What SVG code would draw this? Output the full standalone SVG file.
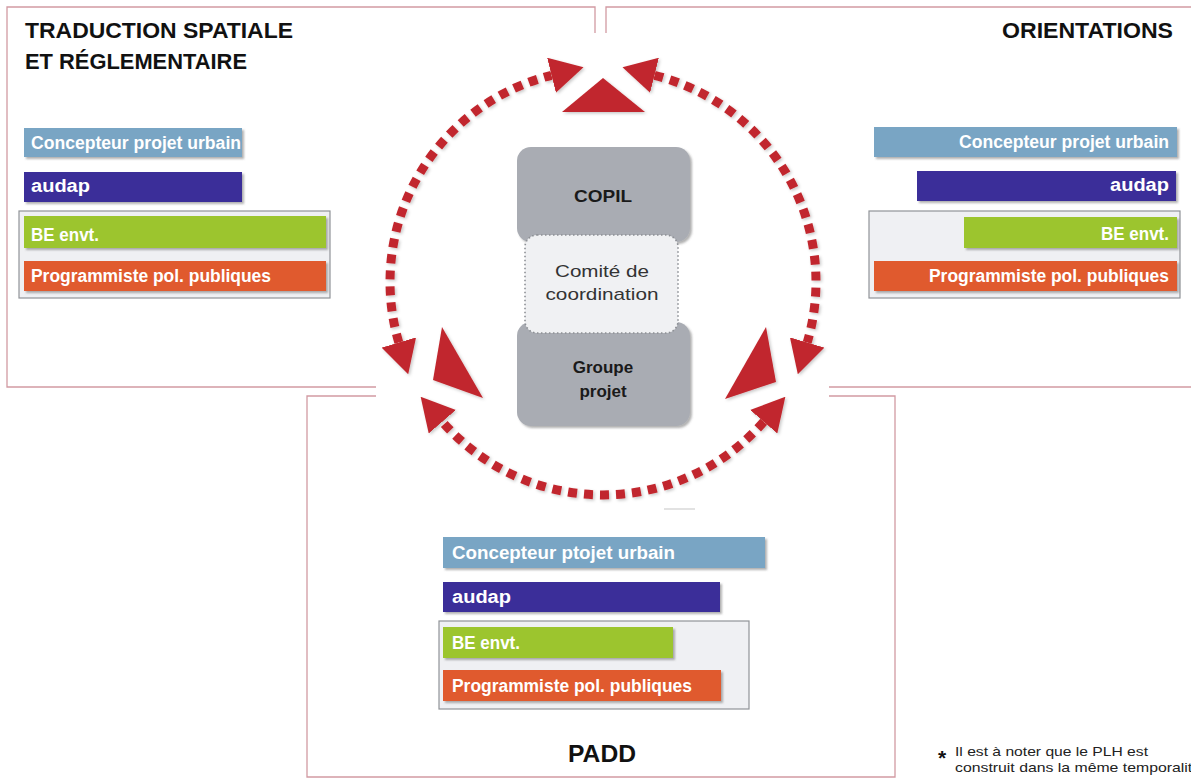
<svg xmlns="http://www.w3.org/2000/svg" width="1191" height="779" viewBox="0 0 1191 779">
  <defs>
    <style>
      .frame { fill: none; stroke: #d29aa2; stroke-width: 1.3; }
      .title { font-family: "Liberation Sans", Arial, sans-serif; font-weight: bold; font-size: 22.5px; fill: #111; }
      .bartxt { font-family: "Liberation Sans", Arial, sans-serif; font-weight: bold; font-size: 18px; fill: #ffffff; }
      .blue { fill: #79a5c4; }
      .purple { fill: #3a2e99; }
      .green { fill: #9cc52f; }
      .orange { fill: #e05a2d; }
      .grp { fill: #eff0f3; stroke: #909398; stroke-width: 1.2; }
      .node { fill: #a9acb3; }
      .nodetxt { font-family: "Liberation Sans", Arial, sans-serif; font-weight: bold; font-size: 17px; fill: #1a1a1a; text-anchor: middle; }
      .comtxt { font-family: "Liberation Sans", Arial, sans-serif; font-size: 17px; fill: #333; text-anchor: middle; }
      .arc { fill: none; stroke: #c1272d; stroke-width: 9; stroke-dasharray: 9 7; }
      .tri { fill: #c1272d; }
      .note { font-family: "Liberation Sans", Arial, sans-serif; font-size: 13px; fill: #222; }
      .star { font-family: "Liberation Sans", Arial, sans-serif; font-size: 21px; font-weight: bold; fill: #111; }
    </style>
    <filter id="sh" x="-10%" y="-20%" width="130%" height="160%">
      <feDropShadow dx="2" dy="2" stdDeviation="1.3" flood-color="#555" flood-opacity="0.45"/>
    </filter>
    <filter id="shr" x="-20%" y="-20%" width="140%" height="140%">
      <feDropShadow dx="1.5" dy="1.5" stdDeviation="1.5" flood-color="#000" flood-opacity="0.22"/>
    </filter>
    <marker id="ah" viewBox="0 -18 33 36" markerWidth="33" markerHeight="36" refX="0" refY="0" markerUnits="userSpaceOnUse" orient="auto-start-reverse">
      <path d="M0,-18 L33,0 L0,18 Z" fill="#c1272d"/>
    </marker>
  </defs>

  <rect x="0" y="0" width="1191" height="779" fill="#ffffff"/>

  <!-- Panel: TRADUCTION SPATIALE ET REGLEMENTAIRE -->
  <g id="panel-traduction">
    <path class="frame" d="M595,33 V7 H7 V387 H376"/>
    <text class="title" x="25" y="38" textLength="268" lengthAdjust="spacingAndGlyphs">TRADUCTION SPATIALE</text>
    <text class="title" x="25" y="69" textLength="222" lengthAdjust="spacingAndGlyphs">ET RÉGLEMENTAIRE</text>
    <rect class="grp" x="19" y="211" width="311" height="87"/>
    <g filter="url(#sh)">
      <rect class="blue" x="24" y="128" width="218" height="29"/>
      <rect class="purple" x="24" y="172" width="218" height="30"/>
      <rect class="green" x="24" y="216" width="302" height="32"/>
      <rect class="orange" x="24" y="261" width="302" height="30"/>
    </g>
    <text class="bartxt" x="31" y="149" textLength="210" lengthAdjust="spacingAndGlyphs">Concepteur projet urbain</text>
    <text class="bartxt" x="31" y="192" textLength="59" lengthAdjust="spacingAndGlyphs">audap</text>
    <text class="bartxt" x="31" y="241" textLength="68" lengthAdjust="spacingAndGlyphs">BE envt.</text>
    <text class="bartxt" x="31" y="282" textLength="240" lengthAdjust="spacingAndGlyphs">Programmiste pol. publiques</text>
  </g>

  <!-- Panel: ORIENTATIONS -->
  <g id="panel-orientations">
    <path class="frame" d="M606,33 V7 H1191 M829,387 H1191"/>
    <text class="title" x="1173" y="38" text-anchor="end" textLength="171" lengthAdjust="spacingAndGlyphs">ORIENTATIONS</text>
    <rect class="grp" x="869" y="211" width="311" height="87"/>
    <g filter="url(#sh)">
      <rect class="blue" x="874" y="127" width="303" height="30"/>
      <rect class="purple" x="917" y="171" width="259" height="30"/>
      <rect class="green" x="964" y="217" width="213" height="31"/>
      <rect class="orange" x="874" y="261" width="303" height="30"/>
    </g>
    <text class="bartxt" x="1169" y="148" text-anchor="end" textLength="210" lengthAdjust="spacingAndGlyphs">Concepteur projet urbain</text>
    <text class="bartxt" x="1169" y="191" text-anchor="end" textLength="59" lengthAdjust="spacingAndGlyphs">audap</text>
    <text class="bartxt" x="1169" y="240" text-anchor="end" textLength="68" lengthAdjust="spacingAndGlyphs">BE envt.</text>
    <text class="bartxt" x="1169" y="282" text-anchor="end" textLength="240" lengthAdjust="spacingAndGlyphs">Programmiste pol. publiques</text>
  </g>

  <!-- Panel: PADD -->
  <g id="panel-padd">
    <path class="frame" d="M376,396 H307 V777 H895 V396 H829"/>
    <rect class="grp" x="439" y="621" width="310" height="88"/>
    <g filter="url(#sh)">
      <rect class="blue" x="443" y="537" width="322" height="31"/>
      <rect class="purple" x="443" y="582" width="277" height="30"/>
      <rect class="green" x="443" y="627" width="230" height="31"/>
      <rect class="orange" x="443" y="670" width="278" height="31"/>
    </g>
    <text class="bartxt" x="452" y="559" textLength="223" lengthAdjust="spacingAndGlyphs">Concepteur ptojet urbain</text>
    <text class="bartxt" x="452" y="603" textLength="59" lengthAdjust="spacingAndGlyphs">audap</text>
    <text class="bartxt" x="452" y="649" textLength="68" lengthAdjust="spacingAndGlyphs">BE envt.</text>
    <text class="bartxt" x="452" y="692" textLength="240" lengthAdjust="spacingAndGlyphs">Programmiste pol. publiques</text>
    <text class="title" x="602" y="762" text-anchor="middle" style="font-size:24px" textLength="68" lengthAdjust="spacingAndGlyphs">PADD</text>
  </g>

  <!-- Connectors: circular double-headed dashed arrows and direction triangles -->
  <g id="connectors" filter="url(#shr)">
    <path class="arc" d="M398.8,342.5 A213,213 0 0 1 551.5,75.3" marker-start="url(#ah)" marker-end="url(#ah)"/>
    <path class="arc" d="M654.5,75.3 A213,213 0 0 1 807.2,342.5" marker-start="url(#ah)" marker-end="url(#ah)"/>
    <path class="arc" d="M763.7,421.7 A213,213 0 0 1 442.3,421.7" marker-start="url(#ah)" marker-end="url(#ah)"/>
    <polygon class="tri" points="562,112 645,112 603,78"/>
    <polygon class="tri" points="442,327 483,398 433,380"/>
    <polygon class="tri" points="766,327 725,399 776,382"/>
  </g>
  <line x1="664" y1="509" x2="695" y2="509" stroke="#e2e2e2" stroke-width="2"/>

  <!-- Central nodes -->
  <g id="node-copil">
    <rect class="node" x="517" y="147" width="173" height="95" rx="14" filter="url(#sh)"/>
    <text class="nodetxt" x="603" y="202" textLength="58" lengthAdjust="spacingAndGlyphs">COPIL</text>
  </g>
  <g id="node-groupe-projet">
    <rect class="node" x="517" y="322" width="173" height="104" rx="14" filter="url(#sh)"/>
    <text class="nodetxt" x="603" y="373">Groupe</text>
    <text class="nodetxt" x="603" y="397">projet</text>
  </g>
  <g id="node-comite">
    <rect x="525" y="235" width="153" height="98" rx="12" fill="#f0f1f3" stroke="#8c8f94" stroke-width="1.6" stroke-dasharray="1.5 2.5"/>
    <text class="comtxt" x="602" y="277" textLength="94" lengthAdjust="spacingAndGlyphs">Comité de</text>
    <text class="comtxt" x="602" y="300" textLength="113" lengthAdjust="spacingAndGlyphs">coordination</text>
  </g>

  <!-- Footnote -->
  <g id="footnote">
    <text class="star" x="938" y="765">*</text>
    <text class="note" x="955" y="756" textLength="193" lengthAdjust="spacingAndGlyphs">Il est à noter que le PLH est</text>
    <text class="note" x="955" y="772" textLength="246" lengthAdjust="spacingAndGlyphs">construit dans la même temporalité</text>
  </g>
</svg>
